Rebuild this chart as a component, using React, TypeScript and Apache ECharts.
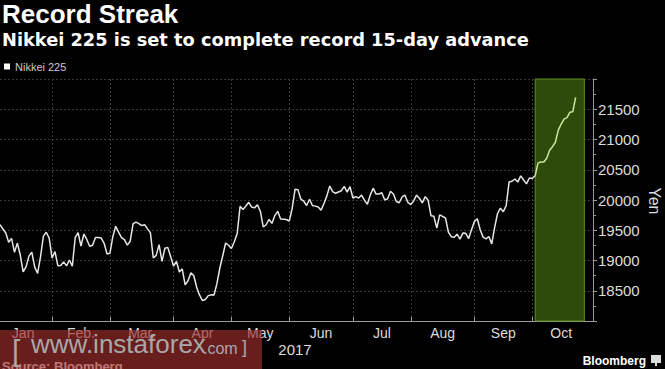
import React, { useEffect, useRef } from "react";
import * as echarts from "echarts";

// ---- Data (Nikkei 225 closes, 2017, trading days) ----
const monthNames = ["Jan", "Feb.", "Mar.", "Apr", "May", "Jun", "Jul", "Aug", "Sep", "Oct"];

const janDays = [4, 5, 6, 10, 11, 12, 13, 16, 17, 18, 19, 20, 23, 24, 25, 26, 27, 30, 31];
const febDays = [1, 2, 3, 6, 7, 8, 9, 10, 13, 14, 15, 16, 17, 20, 21, 22, 23, 24, 27, 28];
const marDays = [1, 2, 3, 6, 7, 8, 9, 10, 13, 14, 15, 16, 17, 21, 22, 23, 24, 27, 28, 29, 30, 31];
const aprDays = [3, 4, 5, 6, 7, 10, 11, 12, 13, 14, 17, 18, 19, 20, 21, 24, 25, 26, 27, 28];
const mayDays = [1, 2, 8, 9, 10, 11, 12, 15, 16, 17, 18, 19, 22, 23, 24, 25, 26, 29, 30, 31];
const junDays = [1, 2, 5, 6, 7, 8, 9, 12, 13, 14, 15, 16, 19, 20, 21, 22, 23, 26, 27, 28, 29, 30];
const julDays = [3, 4, 5, 6, 7, 10, 11, 12, 13, 14, 18, 19, 20, 21, 24, 25, 26, 27, 28, 31];
const augDays = [1, 2, 3, 4, 7, 8, 9, 10, 14, 15, 16, 17, 18, 21, 22, 23, 24, 25, 28, 29, 30, 31];
const sepDays = [1, 4, 5, 6, 7, 8, 11, 12, 13, 14, 15, 19, 20, 21, 22, 25, 26, 27, 28, 29];
const octDays = [2, 3, 4, 5, 6, 10, 11, 12, 13, 16, 17, 18, 19, 20, 23, 24, 25, 26, 27, 30, 31];

const janClose = [19594, 19521, 19454, 19301, 19365, 19135, 19287, 19095, 18814, 18894, 19072, 19138, 18891, 18788, 19058, 19402, 19467, 19369, 19041];
const febClose = [19148, 18915, 18918, 18977, 18911, 19008, 18908, 19379, 19459, 19239, 19438, 19348, 19235, 19251, 19381, 19380, 19371, 19284, 19107, 19119];
const marClose = [19394, 19565, 19469, 19379, 19344, 19254, 19319, 19605, 19634, 19610, 19577, 19590, 19522, 19456, 19041, 19085, 19263, 18986, 19203, 19217, 19063, 18909];
const aprClose = [18983, 18810, 18861, 18597, 18665, 18798, 18748, 18553, 18427, 18336, 18355, 18419, 18432, 18430, 18621, 18876, 19079, 19289, 19252, 19197];
const mayClose = [19311, 19446, 19896, 19843, 19900, 19962, 19884, 19870, 19920, 19815, 19554, 19591, 19678, 19613, 19743, 19813, 19687, 19683, 19678, 19651];
const junClose = [19860, 20177, 20171, 20013, 19980, 19909, 20013, 19909, 19899, 19884, 19832, 19943, 20068, 20230, 20139, 20111, 20133, 20153, 20225, 20130, 20220, 20033];
const julClose = [20056, 20032, 20082, 19994, 19929, 20081, 20195, 20098, 20100, 20119, 20001, 20021, 20145, 20100, 19976, 19955, 20050, 20080, 19960, 19925];
const augClose = [19986, 20080, 20029, 19952, 20056, 19996, 19739, 19730, 19537, 19753, 19729, 19703, 19470, 19393, 19384, 19435, 19354, 19453, 19450, 19363, 19507, 19646];
const sepClose = [19691, 19508, 19386, 19358, 19397, 19275, 19546, 19777, 19866, 19807, 19910, 20299, 20310, 20347, 20296, 20398, 20330, 20267, 20363, 20356];
const octClose = [20401, 20614, 20627, 20629, 20691, 20824, 20881, 20955, 21155, 21256, 21336, 21363, 21449, 21458, 21697];

const shadeStart = "2017-10-02";
const shadeEnd = "2017-10-26";

const yTicks = { min: 18000, max: 22000, step: 500 };

// ---- Derived ----
const monthDays = [janDays, febDays, marDays, aprDays, mayDays, junDays, julDays, augDays, sepDays, octDays];
const monthCloses = [janClose, febClose, marClose, aprClose, mayClose, junClose, julClose, augClose, sepClose, octClose];

const pad = (n: number) => (n < 10 ? "0" + n : "" + n);
const categories: string[] = [];
const firstIdx: number[] = [];
monthDays.forEach((days, m) => {
  firstIdx.push(categories.length);
  days.forEach((d) => categories.push(`2017-${pad(m + 1)}-${pad(d)}`));
});
const values: number[] = ([] as number[]).concat(...monthCloses);

const tickSet = new Set<number>(firstIdx.slice(1).map((i) => i - 1));
const labelMap = new Map<number, string>();
firstIdx.forEach((f, m) => {
  const start = f - 1;
  const end = m + 1 < firstIdx.length ? firstIdx[m + 1] - 1 : categories.length - 1;
  labelMap.set(Math.floor((start + end) / 2), monthNames[m]);
});
const shadeStartIdx = categories.indexOf(shadeStart);
const beforeData = values.map((v, i) => (i <= shadeStartIdx ? v : null));
const streakData = values.map((v, i) => (i >= shadeStartIdx ? v : null));

const FONT = "Liberation Sans";

export default function App() {
  const ref = useRef<HTMLDivElement>(null);
  useEffect(() => {
    if (!ref.current) return;
    const chart = echarts.init(ref.current, undefined, { renderer: "svg" });
    const option: any = {
      animation: false,
      backgroundColor: "#000",
      textStyle: { fontFamily: FONT },
      title: [
        {
          text: "Record Streak",
          left: 2,
          top: 1,
          padding: 0,
          textStyle: { color: "#fff", fontSize: 26, fontWeight: "bold", fontFamily: FONT },
        },
        {
          text: "Nikkei 225 is set to complete record 15-day advance",
          left: 2,
          top: 30,
          padding: 0,
          textStyle: { color: "#fff", fontSize: 17.8, fontWeight: "bold", fontFamily: "DejaVu Sans" },
        },
      ],
      legend: {
        left: 4,
        top: 61,
        padding: 0,
        itemWidth: 6,
        itemHeight: 6,
        data: [{ name: "Nikkei 225", icon: "rect", itemStyle: { color: "#fff" } }],
        textStyle: { color: "#ccc", fontSize: 11, fontFamily: FONT },
      },
      grid: { left: 0, right: 72, top: 79, bottom: 48, containLabel: false, outerBoundsMode: "none" },
      xAxis: {
        type: "category",
        boundaryGap: false,
        data: categories,
        axisLine: { show: true, lineStyle: { color: "#9a9a9a", width: 1 } },
        axisTick: {
          show: true,
          inside: true,
          length: 4,
          interval: (i: number) => tickSet.has(i),
          lineStyle: { color: "#9a9a9a" },
        },
        axisLabel: {
          interval: (i: number) => labelMap.has(i),
          formatter: (_v: string, i: number) => labelMap.get(i) || "",
          color: "#dcdcdc",
          fontSize: 14,
          margin: 5,
          fontFamily: FONT,
        },
        splitLine: {
          show: true,
          interval: (i: number) => tickSet.has(i),
          lineStyle: { color: "#3a3a3a", type: [2, 2], width: 1 },
        },
      },
      yAxis: {
        type: "value",
        position: "right",
        min: yTicks.min,
        max: yTicks.max,
        interval: yTicks.step,
        axisLine: { show: true, lineStyle: { color: "#9a9a9a", width: 1 } },
        axisTick: { show: true, length: 4, lineStyle: { color: "#9a9a9a" } },
        minorTick: { show: true, splitNumber: 2, length: 3, lineStyle: { color: "#9a9a9a" } },
        axisLabel: {
          color: "#dcdcdc",
          fontSize: 15,
          margin: 5,
          showMinLabel: false,
          showMaxLabel: false,
          fontFamily: FONT,
          formatter: (v: number) => String(v),
        },
        splitLine: { show: true, lineStyle: { color: "#3a3a3a", type: [2, 2], width: 1 } },
      },
      series: [
        {
          name: "Nikkei 225",
          type: "line",
          data: beforeData,
          showSymbol: false,
          symbol: "none",
          lineStyle: { width: 1.5, color: "#e6e6e6" },
          itemStyle: { color: "#fff" },
          markArea: {
            silent: true,
            itemStyle: { color: "#2e4b0c", borderColor: "#5f901c", borderWidth: 1 },
            data: [[{ xAxis: shadeStart }, { xAxis: shadeEnd }]],
          },
          z: 3,
        },
        {
          name: "Streak",
          type: "line",
          data: streakData,
          showSymbol: false,
          symbol: "none",
          lineStyle: { width: 1.5, color: "#cde59a" },
          itemStyle: { color: "#cde59a" },
          z: 3,
        },
      ],
      graphic: [
        {
          type: "text",
          x: 654,
          y: 201,
          rotation: -Math.PI / 2,
          style: {
            text: "Yen",
            fill: "#dcdcdc",
            font: `16px "${FONT}"`,
            textAlign: "center",
            textVerticalAlign: "middle",
            align: "center",
            verticalAlign: "middle",
          },
        },
        {
          type: "text",
          x: 295,
          y: 349,
          style: {
            text: "2017",
            fill: "#dcdcdc",
            font: `15px "${FONT}"`,
            textAlign: "center",
            textVerticalAlign: "middle",
            align: "center",
            verticalAlign: "middle",
          },
        },
        {
          type: "text",
          x: 2,
          y: 360,
          style: { text: "Source: Bloomberg", fill: "#fff", font: `bold 13px "${FONT}"` },
        },
        {
          type: "text",
          x: 646,
          y: 361,
          style: {
            text: "Bloomberg",
            fill: "#fff",
            font: `bold 12px "${FONT}"`,
            textAlign: "right",
            textVerticalAlign: "middle",
            align: "right",
            verticalAlign: "middle",
          },
        },
        { type: "rect", shape: { x: 651, y: 355, width: 10, height: 8 }, style: { fill: "#ddd" } },
        { type: "rect", shape: { x: 655, y: 363, width: 2, height: 3 }, style: { fill: "#ddd" } },
        // watermark
        {
          type: "rect",
          z: 100,
          shape: { x: 0, y: 330, width: 262, height: 39 },
          style: { fill: "rgba(160,45,45,0.66)" },
        },
        {
          type: "text",
          z: 101,
          x: 12,
          y: 350,
          style: { text: "[", fill: "#a8a8a8", font: `30px "${FONT}"`, textVerticalAlign: "middle", verticalAlign: "middle" },
        },
        {
          type: "text",
          z: 101,
          x: 31,
          y: 344,
          style: { text: "www.instaforex", fill: "#a8a8a8", font: `26px "${FONT}"`, textVerticalAlign: "middle", verticalAlign: "middle" },
        },
        {
          type: "text",
          z: 101,
          x: 203,
          y: 348,
          style: { text: ".com", fill: "#a8a8a8", font: `16px "${FONT}"`, textVerticalAlign: "middle", verticalAlign: "middle" },
        },
        {
          type: "text",
          z: 101,
          x: 242,
          y: 347,
          style: { text: "]", fill: "#a8a8a8", font: `18px "${FONT}"`, textVerticalAlign: "middle", verticalAlign: "middle" },
        },
      ],
    };
    chart.setOption(option);
    return () => chart.dispose();
  }, []);
  return (
    <div
      ref={ref}
      style={{ position: "fixed", left: 0, top: 0, width: 665, height: 369 }}
    />
  );
}
